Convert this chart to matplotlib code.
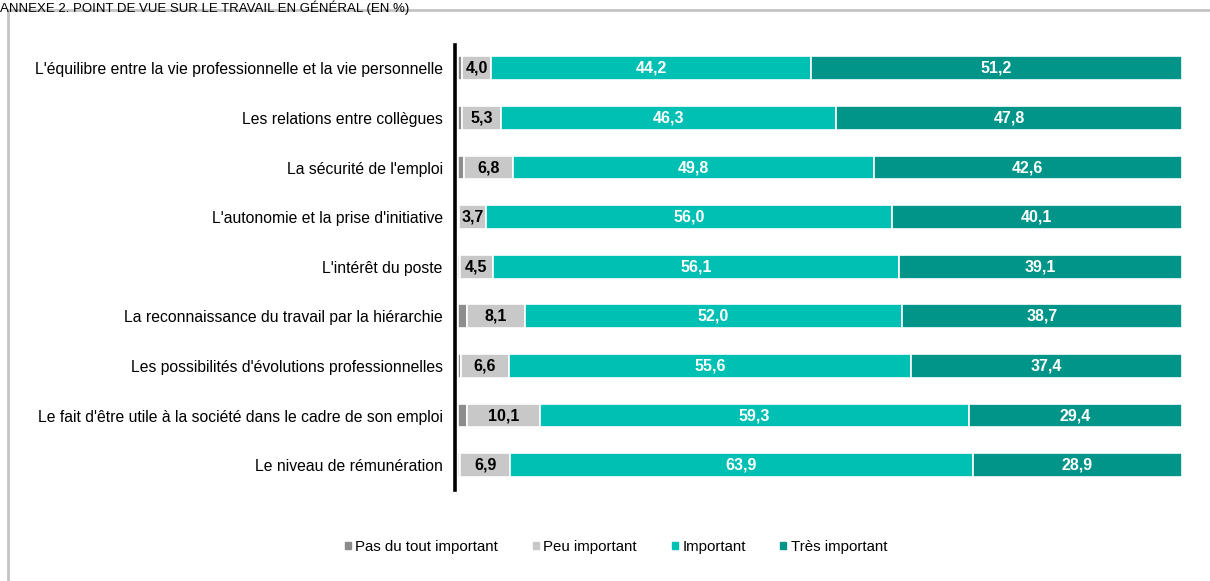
import matplotlib.pyplot as plt
from matplotlib.lines import Line2D

plt.rcParams['font.family'] = ['Liberation Sans', 'DejaVu Sans']

categories = [
    "L'équilibre entre la vie professionnelle et la vie personnelle",
    "Les relations entre collègues",
    "La sécurité de l'emploi",
    "L'autonomie et la prise d'initiative",
    "L'intérêt du poste",
    "La reconnaissance du travail par la hiérarchie",
    "Les possibilités d'évolutions professionnelles",
    "Le fait d'être utile à la société dans le cadre de son emploi",
    "Le niveau de rémunération",
]
pas_du_tout = [0.6, 0.6, 0.8, 0.2, 0.3, 1.2, 0.4, 1.2, 0.3]
peu = [4.0, 5.3, 6.8, 3.7, 4.5, 8.1, 6.6, 10.1, 6.9]
important = [44.2, 46.3, 49.8, 56.0, 56.1, 52.0, 55.6, 59.3, 63.9]
tres = [51.2, 47.8, 42.6, 40.1, 39.1, 38.7, 37.4, 29.4, 28.9]

series = [
    ("Pas du tout important", pas_du_tout, '#8c8c8c', None),
    ("Peu important", peu, '#c8c8c8', 'black'),
    ("Important", important, '#00bfb3', 'white'),
    ("Très important", tres, '#009588', 'white'),
]

W, H = 1210, 581
fig = plt.figure(figsize=(W / 100, H / 100), dpi=100)
ax = fig.add_axes([458 / W, 1 - 490 / H, (1182 - 458) / W, (490 - 45) / H])

y = list(range(len(categories)))
left = [0.0] * len(categories)
for name, vals, color, tcol in series:
    ax.barh(y, vals, left=left, height=0.48, color=color,
            edgecolor='white', linewidth=1.2, label=name)
    if tcol:
        for i, v in enumerate(vals):
            ax.text(left[i] + v / 2, i, f"{v:.1f}".replace('.', ','),
                    ha='center', va='center', color=tcol,
                    fontsize=11.5, fontweight='bold')
    left = [l + v for l, v in zip(left, vals)]

ax.set_xlim(0, 100)
ax.set_ylim(8.5, -0.47)
ax.set_yticks(y)
ax.set_yticklabels(categories)
ax.tick_params(axis='y', length=0, pad=9, labelsize=11.35)
ax.set_xticks([])
for s in ['top', 'right', 'bottom']:
    ax.spines[s].set_visible(False)
ax.spines['left'].set_linewidth(2.6)
ax.spines['left'].set_position(('outward', 2))

# frame around the chart
fig.add_artist(Line2D([8 / W, 8 / W], [0, 1 - 10 / H], color='#c4c4c4', lw=2))
fig.add_artist(Line2D([8 / W, 1], [1 - 10 / H, 1 - 10 / H], color='#c4c4c4', lw=2))

fig.text(0.0, 1 - 0.5 / H, "ANNEXE 2. POINT DE VUE SUR LE TRAVAIL EN GÉNÉRAL (EN %)",
         fontsize=9.5, va='top', ha='left')

handles = [plt.Rectangle((0, 0), 1, 1, color=c) for _, _, c, _ in series]
fig.legend(handles, [n for n, _, _, _ in series], loc='center',
           bbox_to_anchor=(616 / W, 1 - 547 / H), ncol=4, frameon=False,
           fontsize=10.85, handlelength=0.4, handleheight=0.4,
           handletextpad=0.3, columnspacing=2.3)

fig.savefig('out.png', dpi=100)
